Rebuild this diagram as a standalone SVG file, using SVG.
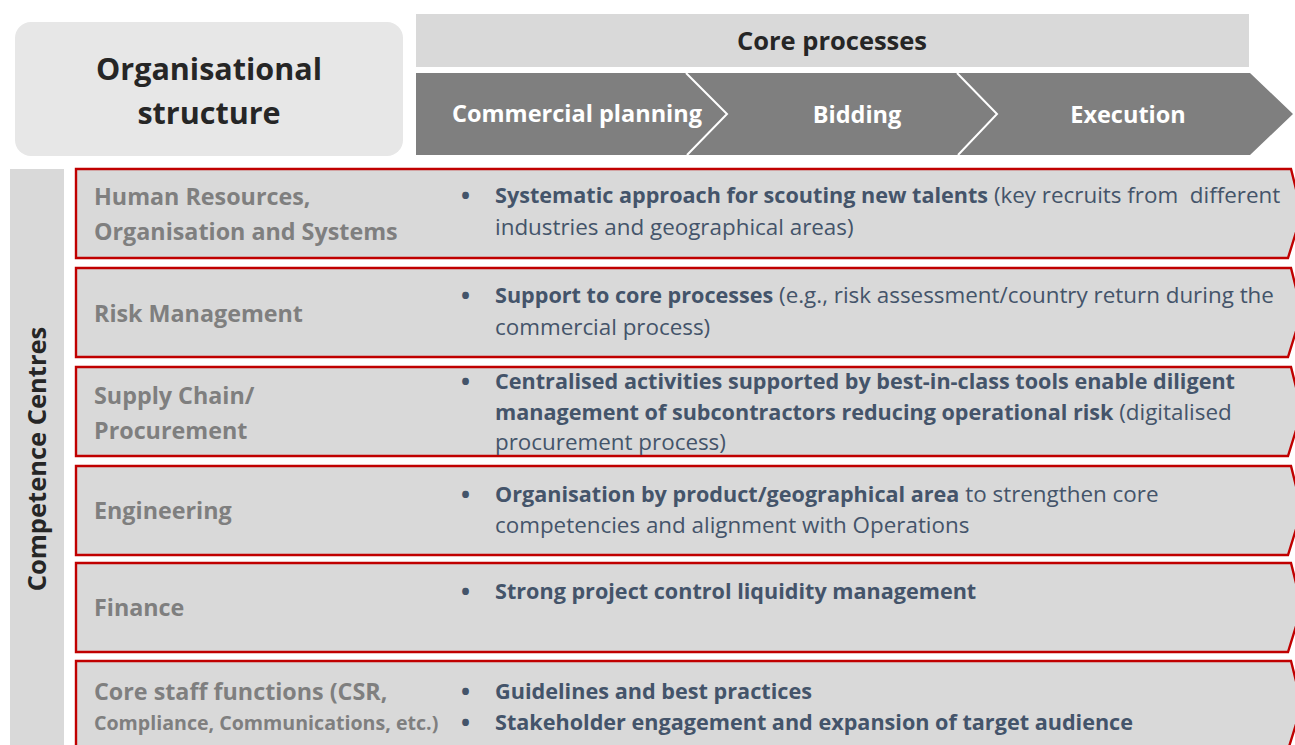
<svg xmlns="http://www.w3.org/2000/svg" width="1295" height="745" viewBox="0 0 1295 745">
  <style>
    .hdr { font-family: "Open Sans", "Liberation Sans", sans-serif; font-weight: 700; fill: #262626; }
    .chev { fill: #7f7f7f; }
    .chev-txt { font-family: "Open Sans", "Liberation Sans", sans-serif; font-weight: 700; font-size: 23.5px; fill: #ffffff; text-anchor: middle; }
    .sep { fill: none; stroke: #ffffff; stroke-width: 2; }
    .row { fill: #d9d9d9; stroke: #c00000; stroke-width: 2.4; }
    .lbl { font-family: "Open Sans", "Liberation Sans", sans-serif; font-weight: 700; font-size: 23.3px; fill: #7f7f7f; }
    .lbl-sm { font-size: 19.6px; }
    .txt { font-family: "Open Sans", "Liberation Sans", sans-serif; font-size: 22.4px; fill: #44546a; }
    .b { font-weight: 700; font-size: 21.6px; }
    .dot { font-family: "Open Sans", "Liberation Sans", sans-serif; font-size: 24px; font-weight: 700; fill: #44546a; }
  </style>

  <!-- Header: organisational structure -->
  <g id="org-structure">
    <rect x="15" y="22" width="388" height="134" rx="16" ry="16" fill="#e7e7e7"/>
    <text class="hdr" x="209" y="80" font-size="30.5" text-anchor="middle">Organisational</text>
    <text class="hdr" x="209" y="124" font-size="30.5" text-anchor="middle">structure</text>
  </g>

  <!-- Header: core processes -->
  <g id="core-processes">
    <rect x="416" y="14" width="833" height="53" fill="#d9d9d9"/>
    <text class="hdr" x="832" y="50" font-size="25.5" text-anchor="middle">Core processes</text>
  </g>

  <!-- Process chevrons -->
  <g id="proc-commercial">
    <polygon class="chev" points="416,73 686,73 727,114 687,155 416,155"/>
    <text class="chev-txt" x="577" y="122">Commercial planning</text>
  </g>
  <g id="proc-bidding">
    <polygon class="chev" points="686,73 957,73 997,114 958,155 687,155 727,114"/>
    <text class="chev-txt" x="857" y="123">Bidding</text>
  </g>
  <g id="proc-execution">
    <polygon class="chev" points="957,73 1250,73 1293,114 1250,155 958,155 997,114"/>
    <text class="chev-txt" x="1128" y="123">Execution</text>
  </g>
  <g id="connectors">
    <polyline class="sep" points="686,73 727,114 687,155"/>
    <polyline class="sep" points="957,73 997,114 958,155"/>
  </g>

  <!-- Side bar -->
  <g id="competence-centres">
    <rect x="10" y="169" width="54" height="580" fill="#d9d9d9"/>
    <text class="hdr" font-size="25.5" text-anchor="middle" transform="translate(46,459) rotate(-90)">Competence Centres</text>
  </g>

  <!-- Competence rows -->
  <g id="row-hr">
    <polygon class="row" points="76,169 1291,169 1302,213 1288,258 76,258"/>
    <text class="lbl" x="94" y="205">Human Resources,</text>
    <text class="lbl" x="94" y="240">Organisation and Systems</text>
    <text class="dot" x="461" y="204">•</text>
    <text class="txt" x="495" y="203"><tspan class="b">Systematic approach for scouting new talents</tspan> (key recruits from&#160; different</text>
    <text class="txt" x="495" y="235">industries and geographical areas)</text>
  </g>

  <g id="row-risk">
    <polygon class="row" points="76,268 1291,268 1302,312 1288,357 76,357"/>
    <text class="lbl" x="94" y="322">Risk Management</text>
    <text class="dot" x="461" y="304">•</text>
    <text class="txt" x="495" y="303"><tspan class="b">Support to core processes</tspan> (e.g., risk assessment/country return during the</text>
    <text class="txt" x="495" y="335">commercial process)</text>
  </g>

  <g id="row-supply">
    <polygon class="row" points="76,367 1291,367 1302,411 1288,456 76,456"/>
    <text class="lbl" x="94" y="404">Supply Chain/</text>
    <text class="lbl" x="94" y="439">Procurement</text>
    <text class="dot" x="461" y="390">•</text>
    <text class="txt b" x="495" y="389">Centralised activities supported by best-in-class tools enable diligent</text>
    <text class="txt" x="495" y="420"><tspan class="b">management of subcontractors reducing operational risk</tspan> (digitalised</text>
    <text class="txt" x="495" y="450">procurement process)</text>
  </g>

  <g id="row-engineering">
    <polygon class="row" points="76,466 1291,466 1302,510 1288,555 76,555"/>
    <text class="lbl" x="94" y="519">Engineering</text>
    <text class="dot" x="461" y="503">•</text>
    <text class="txt" x="495" y="502"><tspan class="b">Organisation by product/geographical area</tspan> to strengthen core</text>
    <text class="txt" x="495" y="533">competencies and alignment with Operations</text>
  </g>

  <g id="row-finance">
    <polygon class="row" points="76,563 1291,563 1302,607 1288,652 76,652"/>
    <text class="lbl" x="94" y="616">Finance</text>
    <text class="dot" x="461" y="600">•</text>
    <text class="txt b" x="495" y="599">Strong project control liquidity management</text>
  </g>

  <g id="row-staff">
    <polygon class="row" points="76,661 1291,661 1302,705 1288,750 76,750"/>
    <text class="lbl" x="94" y="700">Core staff functions (CSR,</text>
    <text class="lbl lbl-sm" x="94" y="730">Compliance, Communications, etc.)</text>
    <text class="dot" x="461" y="700">•</text>
    <text class="txt b" x="495" y="699" textLength="317" lengthAdjust="spacingAndGlyphs">Guidelines and best practices</text>
    <text class="dot" x="461" y="731">•</text>
    <text class="txt b" x="495" y="730" textLength="638" lengthAdjust="spacingAndGlyphs">Stakeholder engagement and expansion of target audience</text>
  </g>
</svg>
